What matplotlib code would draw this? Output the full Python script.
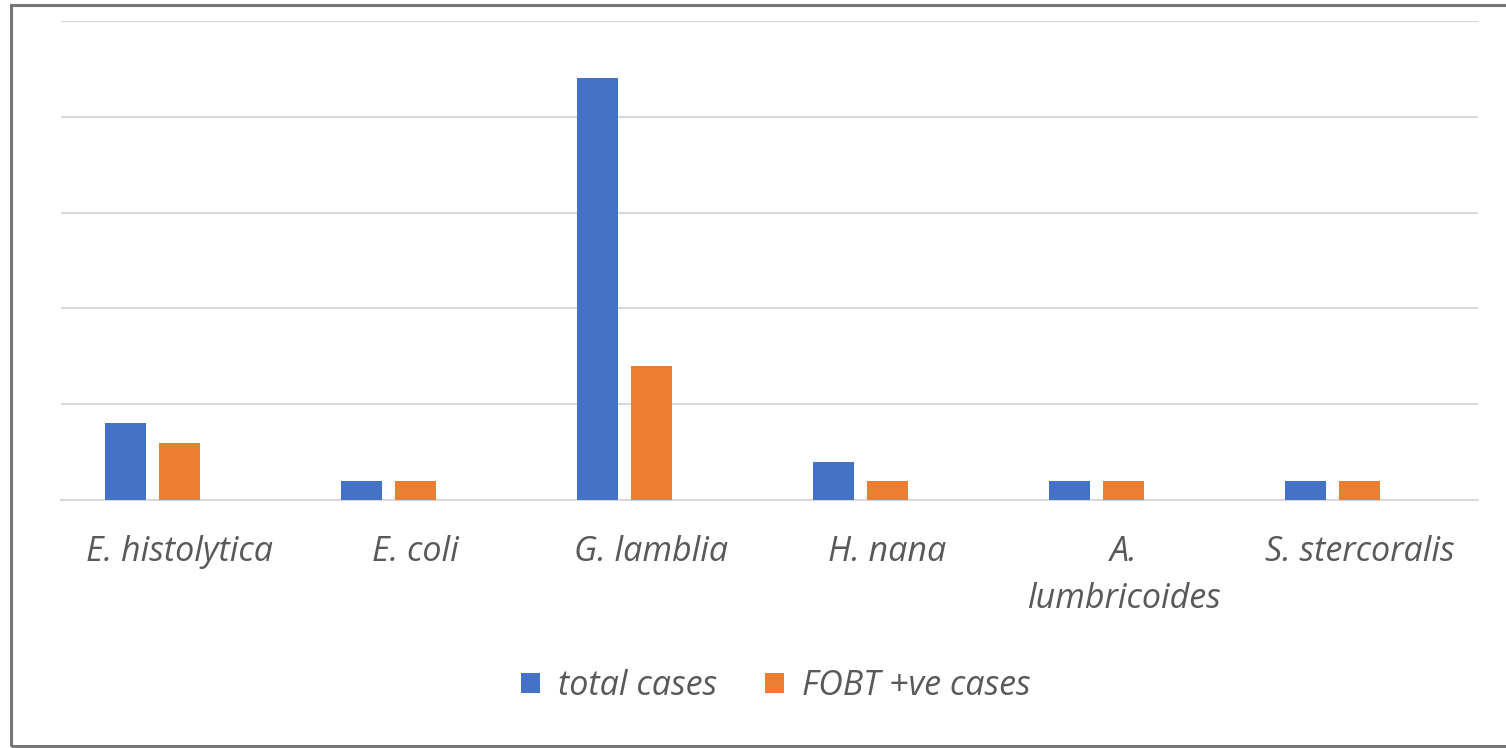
import numpy as np
import matplotlib as mpl
mpl.use("Agg")
import matplotlib.pyplot as plt
from matplotlib.patches import Rectangle

categories = ["E. histolytica", "E. coli", "G. lamblia", "H. nana",
              "A.\nlumbricoides", "S. stercoralis"]
total_cases = [4, 1, 22, 2, 1, 1]
fobt_cases = [3, 1, 7, 1, 1, 1]
series_names = ["total cases", "FOBT +ve cases"]

BLUE = "#4472C4"
ORANGE = "#ED7D31"
TEXT = "#595959"
GRID = "#D9D9D9"

plt.rcParams["font.family"] = ["Open Sans", "DejaVu Sans"]

W, H = 1506, 748
fig = plt.figure(figsize=(W / 100, H / 100), dpi=100)
ax = fig.add_axes([61 / W, 1 - 500 / H, (1478 - 61) / W, (500 - 21) / H])

x = np.arange(len(categories))
bw = 41 / 236
step = 54 / 236
ax.bar(x - step, total_cases, width=bw, color=BLUE, label=series_names[0], zorder=3)
ax.bar(x, fobt_cases, width=bw, color=ORANGE, label=series_names[1], zorder=3)

ax.set_xlim(-0.5, len(categories) - 0.5)
ax.set_ylim(0, 25)
ax.set_yticks(np.arange(0, 26, 5))
ax.set_yticklabels([])
ax.tick_params(axis="y", length=0)
ax.tick_params(axis="x", length=0, pad=25)
ax.grid(axis="y", color=GRID, lw=1.5, zorder=0)
for s in ["top", "right", "left"]:
    ax.spines[s].set_visible(False)
ax.spines["bottom"].set_color(GRID)
ax.spines["bottom"].set_linewidth(1.5)

ax.set_xticks(x)
ax.set_xticklabels(categories, fontsize=24.5, style="italic", color=TEXT,
                   linespacing=1.5, va="top")

leg = fig.legend(loc="center", bbox_to_anchor=(776 / W, 1 - 686 / H), ncol=2,
                 frameon=False, fontsize=24.5, handlelength=0.55, handleheight=0.55,
                 handletextpad=0.55, columnspacing=1.4)
for t in leg.get_texts():
    t.set_color(TEXT)
    t.set_style("italic")

# chart border (extends beyond the right edge in the original crop)
fig.patches.append(Rectangle((11 / W, 1 - 746 / H), 1.1, (746 - 5) / H,
                             transform=fig.transFigure, fill=False,
                             edgecolor="#767676", lw=2.2, zorder=10))

fig.savefig("out.png", dpi=100)
